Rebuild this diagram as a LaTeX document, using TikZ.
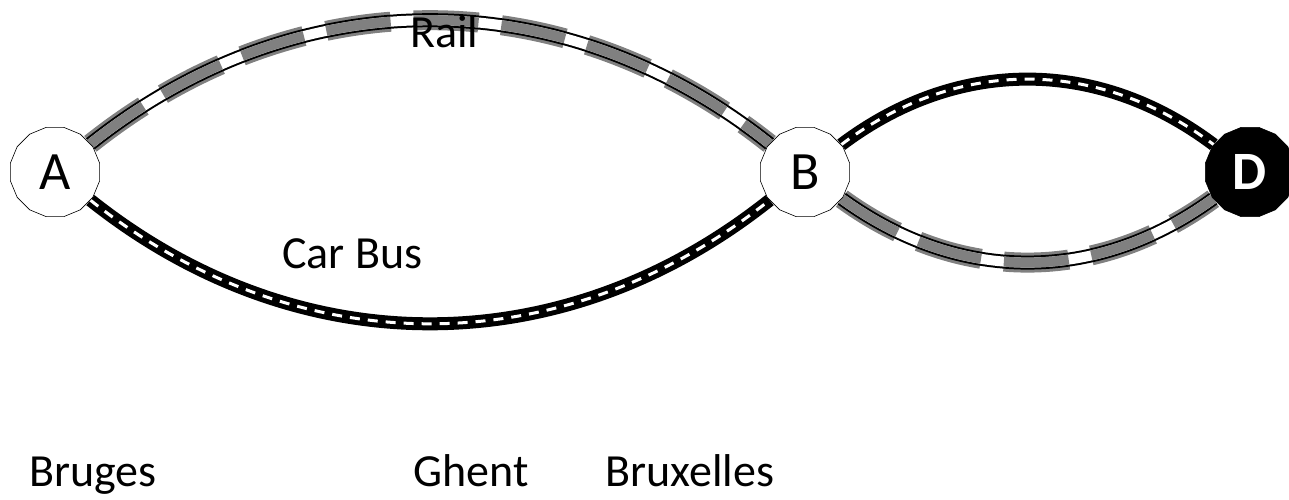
\documentclass[tikz,border=0pt]{standalone}
\usepackage{fontspec}
\setmainfont{Carlito}
\usetikzlibrary{shapes.geometric,backgrounds}
\definecolor{ballast}{HTML}{808080}
\begin{document}
\begin{tikzpicture}[x=1pt,y=1pt,
  station/.style={regular polygon, regular polygon sides=16, minimum size=91pt,
    inner sep=0pt, draw=black, line width=0.6pt, fill=white,
    font=\fontsize{54}{60}\selectfont},
  terminus/.style={station, fill=black, text=white,
    font=\fontsize{54}{60}\selectfont\bfseries},
  caption/.style={anchor=base west, inner sep=0pt,
    font=\fontsize{46}{52}\selectfont},
  road/.style={draw=black, line width=13pt,
    postaction={draw=white, line width=3pt, dash pattern=on 10pt off 8pt}},
  rail/.style={draw=white, line width=10pt,
    preaction={draw=ballast, line width=20pt, dash pattern=on 65pt off 23pt},
    preaction={draw=black, line width=14pt},
    postaction={draw=ballast, line width=10pt, dash pattern=on 65pt off 23pt}}]
  \useasboundingbox (0,0) rectangle (1289,499);

  % stations
  \node[station]  (A) at (55,327)   {A};
  \node[station]  (B) at (805,327)  {B};
  \node[terminus] (D) at (1250,327) {D};

  % links between the stations
  \begin{pgfonlayer}{background}
    \draw[rail] (A) to[bend left=38.5]  (B);
    \draw[road] (A) to[bend right=38.5] (B);
    \draw[road] (B) to[bend left=37]    (D);
    \draw[rail] (B) to[bend right=36]   (D);
  \end{pgfonlayer}

  % labels
  \node[caption] (lrail) at (410,451) {Rail};
  \node[caption] (lcar)  at (282,231) {Car Bus};
  \node[caption] (lbru)  at (29,13)   {Bruges};
  \node[caption] (lghe)  at (413,13)  {Ghent};
  \node[caption] (lbrx)  at (605,13)  {Bruxelles};
\end{tikzpicture}
\end{document}
